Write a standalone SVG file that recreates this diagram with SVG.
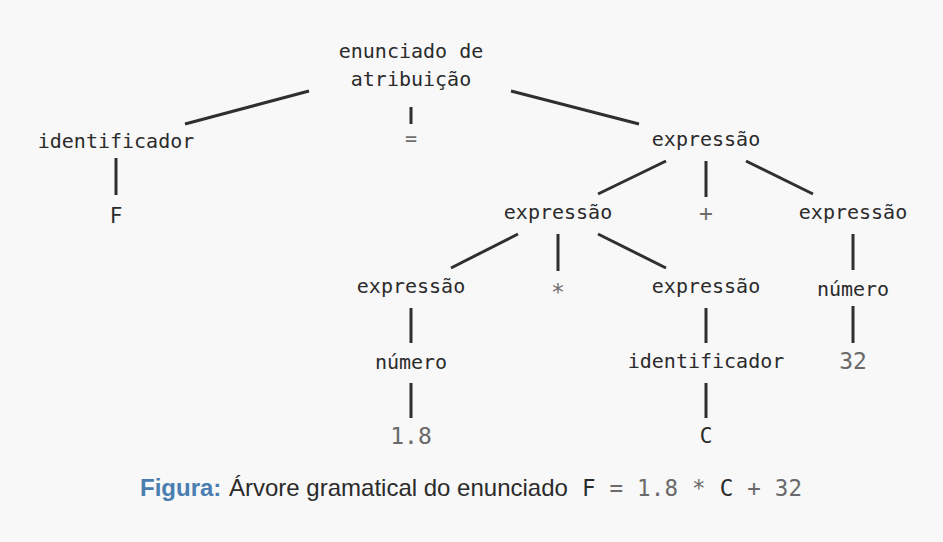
<svg xmlns="http://www.w3.org/2000/svg" width="943" height="542" viewBox="0 0 943 542">
<style>
.lbl{font-family:"DejaVu Sans Mono","Liberation Mono",monospace;font-size:20px;fill:#2b2b2b;text-anchor:middle}
.op{fill:#6e6e6e}
.big{font-size:23px}
.num{font-size:23px;fill:#6a6a6a}
.leaf{font-size:21px}
.edge{stroke:#2f2f2f;stroke-width:3;stroke-linecap:butt;fill:none}
.cap{font-family:"Liberation Sans",Arial,sans-serif;font-size:24px;fill:#2b2b2b}
.capb{font-weight:bold;fill:#4a7eb0}
.capm{font-family:"DejaVu Sans Mono","Liberation Mono",monospace;font-size:22.5px;fill:#6a6a6a}
</style>
<rect width="943" height="542" fill="#f8f8f8"/>
<g id="edges">
<line class="edge" x1="309" y1="91" x2="185" y2="124"/>
<line class="edge" x1="411" y1="107" x2="411" y2="124"/>
<line class="edge" x1="511" y1="91" x2="639" y2="124"/>
<line class="edge" x1="116" y1="158" x2="116" y2="195"/>
<line class="edge" x1="666" y1="161" x2="598" y2="194"/>
<line class="edge" x1="706" y1="161" x2="706" y2="197"/>
<line class="edge" x1="746" y1="161" x2="813" y2="194"/>
<line class="edge" x1="518" y1="234" x2="451" y2="268"/>
<line class="edge" x1="558" y1="234" x2="558" y2="271"/>
<line class="edge" x1="598" y1="234" x2="666" y2="268"/>
<line class="edge" x1="853" y1="234" x2="853" y2="270"/>
<line class="edge" x1="411" y1="308" x2="411" y2="343"/>
<line class="edge" x1="706" y1="308" x2="706" y2="343"/>
<line class="edge" x1="853" y1="306" x2="853" y2="343"/>
<line class="edge" x1="411" y1="383" x2="411" y2="418"/>
<line class="edge" x1="706" y1="383" x2="706" y2="418"/>
</g>
<g id="root"><text class="lbl" x="411" y="58">enunciado de</text><text class="lbl" x="411" y="86">atribuição</text></g>
<g id="ident1"><text class="lbl" x="116" y="148">identificador</text></g>
<g id="eq"><text class="lbl op" x="411" y="145">=</text></g>
<g id="expr1"><text class="lbl" x="706" y="146">expressão</text></g>
<g id="F"><text class="lbl leaf" x="116" y="223">F</text></g>
<g id="expr2"><text class="lbl" x="558" y="219">expressão</text></g>
<g id="plus"><text class="lbl op big" x="706" y="221">+</text></g>
<g id="expr3"><text class="lbl" x="853" y="219">expressão</text></g>
<g id="expr4"><text class="lbl" x="411" y="293">expressão</text></g>
<g id="star"><text class="lbl op big" x="558" y="300">*</text></g>
<g id="expr5"><text class="lbl" x="706" y="293">expressão</text></g>
<g id="numero2"><text class="lbl" x="853" y="296">número</text></g>
<g id="numero1"><text class="lbl" x="411" y="369">número</text></g>
<g id="ident2"><text class="lbl" x="706" y="368">identificador</text></g>
<g id="n32"><text class="lbl num" x="853" y="369">32</text></g>
<g id="n18"><text class="lbl num" x="411" y="444">1.8</text></g>
<g id="C"><text class="lbl leaf" x="706" y="443">C</text></g>
<g id="caption">
<text class="cap capb" x="140" y="496">Figura:</text>
<text class="cap" x="229" y="496">Árvore gramatical do enunciado</text>
<text class="capm" x="582" y="496" textLength="220" lengthAdjust="spacing"><tspan fill="#2b2b2b">F</tspan> = 1.8 * <tspan fill="#2b2b2b">C</tspan> + 32</text>
</g>
</svg>
